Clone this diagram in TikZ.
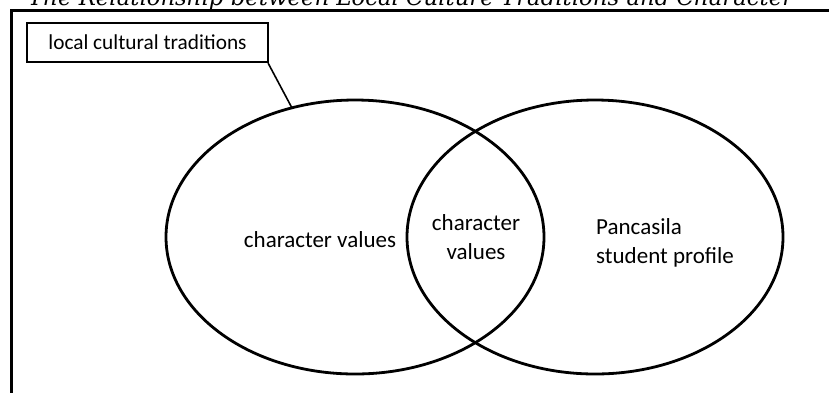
\documentclass[tikz,border=0pt]{standalone}
\usepackage{fontspec}
\setmainfont{Carlito}
\newfontfamily\titlefont{DejaVu Serif}
\usetikzlibrary{shapes.geometric}
\begin{document}
\begin{tikzpicture}[x=1pt,y=-1pt,
  lbl/.style={font=\fontsize{23}{29}\selectfont, align=center, inner sep=0pt},
  venn/.style={draw=black, line width=2.8pt},
  frame/.style={draw=black, line width=3pt}]
\useasboundingbox (0,0) rectangle (829,392);
\node[anchor=base west, inner sep=0pt, font=\titlefont\itshape\fontsize{22.8}{26}\selectfont] (title) at (28,5) {The Relationship between Local Culture Traditions and Character};
\draw[frame] (11.5,420) -- (11.5,10.5) -- (860,10.5);
\draw[venn] (355,237) ellipse [x radius=189, y radius=137];
\draw[venn] (595,237) ellipse [x radius=188, y radius=137];
\node[draw=black, line width=2.2pt, minimum width=241pt, minimum height=39pt, inner sep=0pt, font=\fontsize{21.3}{25}\selectfont] (box) at (147.5,42.5) {local cultural traditions};
\coordinate (tip) at (292,108);
\draw[line width=1.6pt] ([xshift=-1pt]box.south east) -- (tip);
\node[lbl] (cv) at (320,240) {character values};
\node[lbl] (mid) at (476,237) {character\\values};
\node[lbl, align=left, anchor=west] (psp) at (596,243) {Pancasila\\student profile};
\end{tikzpicture}
\end{document}
